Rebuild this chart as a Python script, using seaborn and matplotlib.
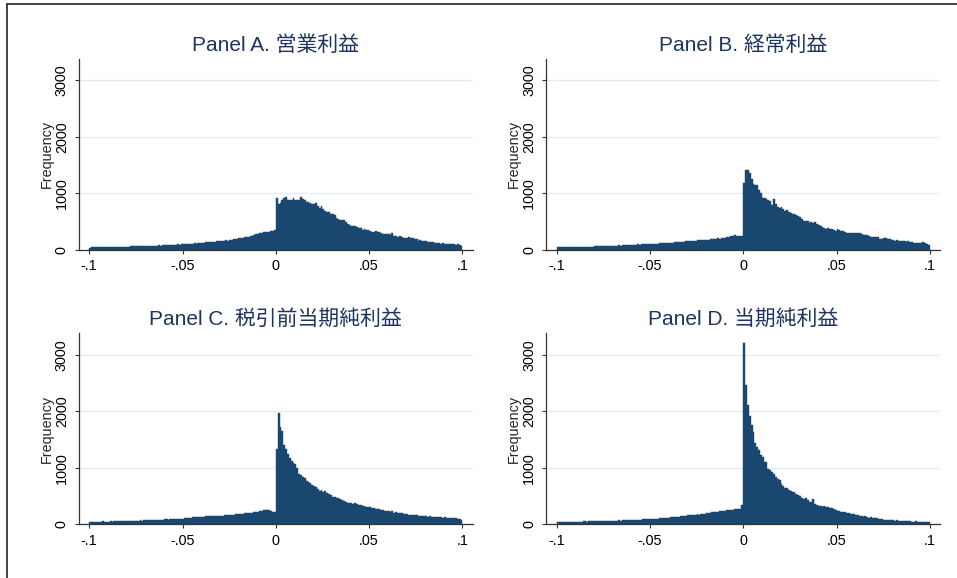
import numpy as np
import pandas as pd
import matplotlib.pyplot as plt
from matplotlib.lines import Line2D
import seaborn as sns

# bins of width .001 from -.1 to .1 (200 bins)
bin_edges = np.linspace(-0.1, 0.1, 201)
bin_centers = (bin_edges[:-1] + bin_edges[1:]) / 2

titles = ["Panel A. 営業利益", "Panel B. 経常利益",
          "Panel C. 税引前当期純利益", "Panel D. 当期純利益"]

xtick_vals = [-0.1, -0.05, 0, 0.05, 0.1]
xtick_labels = ["-.1", "-.05", "0", ".05", ".1"]
ytick_vals = [0, 1000, 2000, 3000]

# frequency per bin
op_income = [
    38, 40, 42, 41, 44, 43, 45, 46, 44, 47,
    48, 47, 50, 49, 52, 51, 53, 50, 55, 54,
    56, 55, 58, 57, 60, 62, 59, 63, 64, 62,
    66, 68, 65, 70, 72, 69, 74, 76, 73, 78,
    80, 82, 79, 85, 87, 84, 90, 92, 89, 95,
    98, 96, 102, 105, 101, 108, 112, 109, 115, 118,
    120, 124, 128, 132, 136, 140, 138, 144, 146, 148,
    150, 152, 158, 163, 160, 170, 175, 182, 188, 194,
    200, 205, 212, 218, 225, 232, 240, 250, 262, 275,
    285, 292, 298, 305, 310, 318, 322, 330, 335, 340,
    912, 805, 823, 882, 912, 924, 876, 876, 888, 912,
    876, 876, 888, 924, 900, 876, 852, 852, 835, 817,
    811, 823, 781, 746, 770, 722, 687, 675, 675, 628,
    639, 616, 556, 545, 527, 533, 521, 485, 462, 438,
    426, 414, 414, 403, 379, 379, 355, 361, 355, 343,
    337, 320, 320, 331, 308, 308, 296, 284, 272, 284,
    272, 260, 290, 249, 249, 231, 237, 219, 213, 201,
    201, 219, 201, 207, 189, 184, 160, 166, 160, 154,
    154, 142, 136, 142, 130, 118, 124, 112, 107, 118,
    107, 95, 101, 107, 95, 101, 89, 95, 83, 71,
]

ordinary_income = [
    40, 42, 41, 44, 43, 45, 44, 47, 46, 48,
    47, 50, 49, 52, 51, 50, 54, 53, 56, 55,
    58, 57, 60, 62, 59, 64, 66, 63, 68, 67,
    70, 72, 69, 75, 74, 77, 80, 78, 82, 84,
    86, 84, 89, 92, 90, 95, 94, 98, 97, 100,
    102, 100, 105, 108, 104, 110, 114, 112, 118, 116,
    122, 125, 121, 130, 134, 131, 138, 142, 140, 146,
    150, 148, 155, 160, 156, 164, 168, 165, 172, 176,
    180, 178, 185, 190, 188, 195, 200, 198, 205, 210,
    214, 220, 228, 236, 248, 252, 246, 244, 242, 250,
    1178, 1415, 1403, 1356, 1249, 1166, 1143, 1148, 1048, 1000,
    912, 923, 894, 882, 870, 793, 894, 805, 752, 734,
    752, 716, 693, 705, 669, 645, 633, 633, 610, 598,
    574, 551, 515, 503, 503, 480, 491, 480, 491, 456,
    432, 420, 397, 385, 373, 385, 361, 373, 349, 337,
    361, 349, 337, 326, 314, 290, 290, 302, 290, 302,
    290, 302, 302, 278, 266, 255, 255, 243, 231, 231,
    231, 231, 219, 195, 195, 207, 201, 184, 184, 172,
    172, 160, 172, 160, 154, 148, 154, 136, 160, 136,
    136, 124, 124, 112, 112, 124, 130, 112, 101, 77,
]

pretax_income = [
    36, 38, 35, 40, 42, 39, 44, 52, 48, 46,
    47, 50, 46, 52, 54, 50, 53, 55, 52, 56,
    58, 56, 60, 62, 64, 61, 65, 68, 66, 70,
    72, 70, 74, 76, 73, 78, 80, 82, 79, 85,
    86, 88, 84, 90, 92, 94, 91, 96, 98, 97,
    100, 104, 110, 118, 115, 122, 126, 124, 130, 134,
    138, 135, 142, 144, 140, 146, 148, 145, 150, 152,
    154, 150, 158, 162, 160, 166, 170, 168, 176, 182,
    186, 190, 188, 196, 200, 204, 202, 208, 214, 218,
    226, 236, 242, 248, 255, 258, 252, 240, 222, 212,
    1341, 1970, 1723, 1652, 1400, 1335, 1252, 1182, 1123, 1088,
    1064, 1005, 888, 870, 841, 811, 770, 747, 723, 688,
    676, 664, 617, 582, 606, 570, 594, 547, 535, 512,
    488, 476, 470, 459, 453, 429, 418, 400, 382, 370,
    376, 359, 370, 359, 341, 335, 323, 323, 312, 306,
    300, 288, 282, 276, 265, 265, 253, 259, 241, 229,
    235, 223, 229, 206, 212, 200, 194, 194, 182, 182,
    176, 170, 170, 165, 159, 159, 153, 147, 153, 147,
    141, 135, 141, 135, 129, 123, 129, 123, 123, 118,
    123, 112, 106, 106, 106, 106, 106, 100, 100, 76,
]

net_income = [
    40, 42, 44, 41, 45, 43, 46, 44, 47, 46,
    48, 47, 49, 48, 50, 52, 49, 53, 51, 54,
    55, 54, 57, 56, 59, 58, 60, 62, 60, 63,
    64, 66, 63, 68, 67, 70, 72, 71, 74, 76,
    78, 77, 80, 82, 84, 83, 86, 88, 90, 92,
    94, 96, 98, 100, 99, 104, 106, 108, 112, 115,
    118, 122, 126, 130, 134, 138, 142, 146, 150, 155,
    158, 162, 166, 164, 170, 175, 172, 180, 186, 190,
    194, 200, 206, 210, 212, 218, 222, 228, 232, 236,
    240, 246, 250, 256, 262, 266, 272, 278, 270, 345,
    3210, 2470, 2105, 1917, 1752, 1635, 1446, 1370, 1311, 1223,
    1194, 1105, 1094, 976, 953, 917, 894, 841, 794, 776,
    717, 682, 647, 635, 606, 588, 576, 564, 541, 517,
    494, 459, 447, 459, 435, 400, 400, 441, 353, 341,
    318, 329, 306, 318, 306, 312, 294, 294, 270, 247,
    241, 235, 223, 217, 212, 200, 200, 188, 176, 176,
    165, 165, 153, 147, 135, 141, 129, 118, 123, 112,
    106, 106, 94, 100, 88, 82, 82, 76, 76, 71,
    71, 65, 71, 65, 59, 65, 59, 53, 59, 53,
    47, 47, 53, 47, 47, 41, 47, 47, 41, 35,
]

panels = [op_income, ordinary_income, pretax_income, net_income]

BAR = "#1a476f"
TITLE = "#1f3260"
AXIS = "#333333"
GRID = "#e3edf0"

sns.set_style("white")
plt.rcParams["font.family"] = ["Liberation Sans", "Noto Sans CJK JP"]

fig = plt.figure(figsize=(9.57, 5.78), dpi=100)

# axes boxes [left, bottom, width, height] in figure fractions
boxes = [
    [0.0825, 0.568, 0.4114, 0.3304],
    [0.5709, 0.568, 0.4114, 0.3304],
    [0.0825, 0.0929, 0.4114, 0.3304],
    [0.5709, 0.0929, 0.4114, 0.3304],
]

for box, title, counts in zip(boxes, titles, panels):
    ax = fig.add_axes(box)
    df = pd.DataFrame({"value": bin_centers, "freq": counts})
    sns.histplot(data=df, x="value", weights="freq", bins=list(bin_edges), ax=ax,
                 color=BAR, edgecolor=BAR, linewidth=0.3, alpha=1)
    ax.set_xlim(-0.1055, 0.1055)
    ax.set_ylim(0, 3380)
    ax.set_xticks(xtick_vals)
    ax.set_xticklabels(xtick_labels)
    ax.set_yticks(ytick_vals)
    ax.set_yticklabels([str(v) for v in ytick_vals], rotation=90, va="center")
    ax.set_axisbelow(True)
    ax.yaxis.grid(True, color=GRID, linewidth=1)
    ax.xaxis.grid(False)
    for side in ["top", "right"]:
        ax.spines[side].set_visible(False)
    for side in ["left", "bottom"]:
        ax.spines[side].set_color(AXIS)
        ax.spines[side].set_linewidth(0.9)
    ax.tick_params(axis="both", length=2.9, width=0.8, color=AXIS,
                   labelsize=10.4, labelcolor="black", bottom=True, left=True)
    ax.tick_params(axis="x", pad=3.8)
    ax.tick_params(axis="y", pad=4.3)
    ax.set_xlabel("")
    ax.set_ylabel("Frequency", fontsize=10.4, labelpad=1)
    ax.set_title(title, fontsize=15, color=TITLE, pad=5.8)

# frame edges visible at top and left of the crop
fig.add_artist(Line2D([7 / 957, 1], [1 - 4 / 578] * 2,
                      transform=fig.transFigure, color="#222222", lw=1.2))
fig.add_artist(Line2D([7 / 957] * 2, [0, 1 - 4 / 578],
                      transform=fig.transFigure, color="#222222", lw=1.2))

fig.savefig("out.png", dpi=100)
